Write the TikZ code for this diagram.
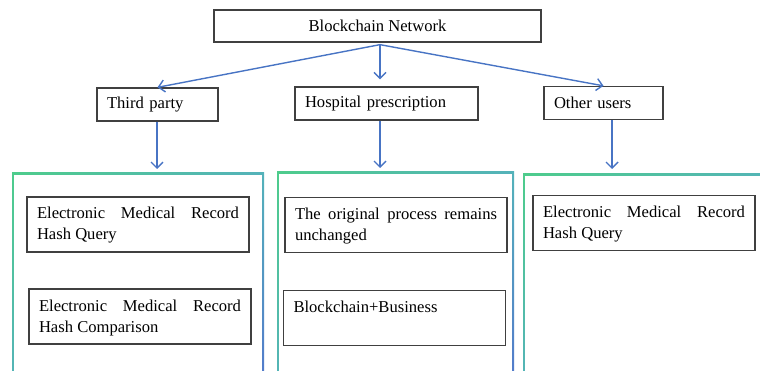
\documentclass[tikz,border=0pt]{standalone}
\usepackage{fontspec}
\setmainfont{Liberation Serif}
\usetikzlibrary{arrows.meta,positioning,shadings}
\definecolor{pgreen}{RGB}{78,204,140}
\definecolor{pteal}{RGB}{84,178,186}
\definecolor{pblue}{RGB}{82,118,204}
\definecolor{arrowblue}{RGB}{72,116,196}
\definecolor{boxgray}{RGB}{64,64,64}

\begin{document}
\hyphenpenalty=10000
\begin{tikzpicture}[
    x=1pt, y=-1pt,
    every node/.style={font=\fontsize{16.6}{21}\selectfont},
    head/.style={draw=boxgray, line width=1.3pt, minimum width=327pt, minimum height=32pt},
    role/.style={draw=boxgray, line width=1.3pt, minimum height=33pt, inner xsep=10pt, align=left},
    task/.style={draw=boxgray, line width=1.3pt, text width=202pt, inner xsep=10pt, inner ysep=9pt,
        text height=13pt, text depth=24pt, align=justify},
    flow/.style={-{Straight Barb[length=6pt, width=12pt]}, arrowblue, line width=1.4pt},
    panel/.style={upper left=pgreen, upper right=pteal, lower left=pteal, lower right=pblue}
]
\useasboundingbox (0,0) rectangle (760,371);
% the three panels
\shade[panel] (12,173) rectangle (264,390);
\fill[white] (14,175) rectangle (262,390);
\shade[panel] (277,172) rectangle (514,390);
\fill[white] (279,174) rectangle (512,390);
\shade[panel] (523,174) rectangle (790,390);
\fill[white] (525,176) rectangle (790,390);
\coordinate (p1) at (157,173);
\coordinate (p2) at (380,172);
\coordinate (p3) at (612,174);

\node[head] (net) at (377.5,26) {Blockchain Network};
\node[role, text width=101pt] (third) at (157.5,104.5) {Third party};
\node[role, text width=163pt] (hosp) at (386.5,103.5) {Hospital prescription};
\node[role, text width=99pt] (other) at (603.5,103) {Other users};
\coordinate (fork) at ([xshift=2.5pt, yshift=-2pt]net.south);

\node[task] (tquery) at (138,224.5) {Electronic Medical Record Hash Query};
\node[task] (tcomp) at (140,316.5) {Electronic Medical Record Hash Comparison};
\node[task] (horig) at (396,225) {The original process remains unchanged};
\node[task] (hbus) at (394.5,318) {Blockchain+Business};
\node[task] (oquery) at (644,223) {Electronic Medical Record Hash Query};

\draw[flow] (fork) -- (third.north);
\draw[flow, shorten >=7pt] (fork) -- (fork |- hosp.north);
\draw[flow] (fork) -- (other.north);
\draw[flow, shorten >=4pt] (third.south -| p1) -- (p1);
\draw[flow, shorten >=4pt] (hosp.south -| p2) -- (p2);
\draw[flow, shorten >=5pt] (other.south -| p3) -- (p3);
\end{tikzpicture}
\end{document}
